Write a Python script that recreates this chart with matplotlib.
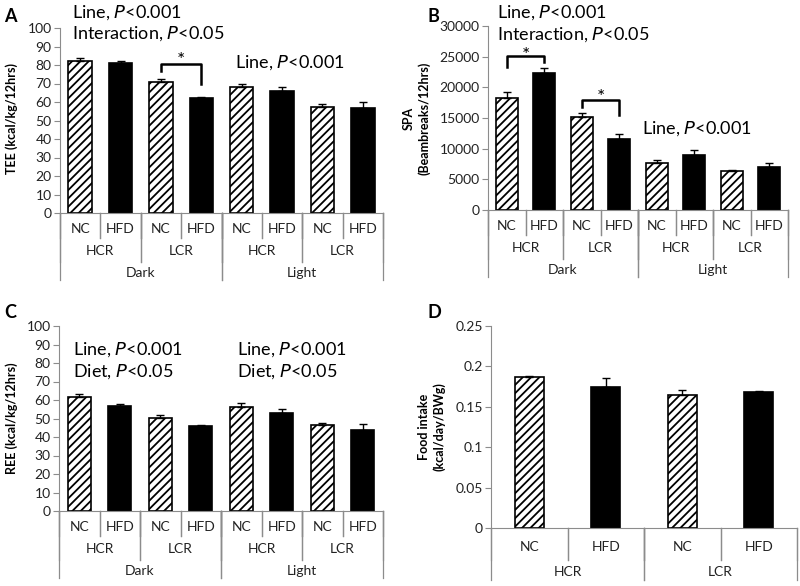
import matplotlib.pyplot as plt
import numpy as np

plt.rcParams['font.family'] = ['Lato', 'DejaVu Sans']
plt.rcParams['hatch.linewidth'] = 1.3
plt.rcParams['hatch.color'] = 'black'

# ---- data ----
diet = ['NC', 'HFD', 'NC', 'HFD', 'NC', 'HFD', 'NC', 'HFD']
line = ['HCR', 'LCR', 'HCR', 'LCR']
phase = ['Dark', 'Light']

tee = [82, 81, 71, 62, 68, 66, 57.5, 57]
tee_err = [2, 1, 1.3, 0.5, 2, 2, 1.3, 2.8]

spa = [18300, 22300, 15100, 11500, 7600, 8900, 6300, 7000]
spa_err = [1000, 800, 700, 900, 600, 900, 300, 700]

ree = [61.5, 56.5, 50.5, 46.2, 56, 53, 46.5, 44]
ree_err = [2, 1.3, 1.2, 0.4, 2.3, 2, 1.3, 2.8]

food_diet = ['NC', 'HFD', 'NC', 'HFD']
food_line = ['HCR', 'LCR']
food = [0.187, 0.175, 0.165, 0.168]
food_err = [0.001, 0.011, 0.006, 0.002]

AX_GREY = '#8c8c8c'
W, H = 800, 586

fig = plt.figure(figsize=(8, 5.86), dpi=100)


def px_axes(left, top, right, bottom):
    return fig.add_axes([left / W, 1 - bottom / H, (right - left) / W, (bottom - top) / H])


def bars(ax, vals, errs, width):
    x = np.arange(len(vals))
    for i, (v, e) in enumerate(zip(vals, errs)):
        if i % 2 == 0:
            ax.bar(x[i], v, width, color='white', edgecolor='black', hatch='////', lw=1.2, zorder=2)
        else:
            ax.bar(x[i], v, width, color='black', edgecolor='black', lw=1.2, zorder=2)
    ax.errorbar(x, vals, yerr=[np.zeros(len(vals)), errs], fmt='none', ecolor='black',
                elinewidth=1, capsize=3, capthick=1, zorder=3)
    ax.set_xlim(-0.5, len(vals) - 0.5)
    ax.set_xticks([])
    for s in ['top', 'right']:
        ax.spines[s].set_visible(False)
    for s in ['left', 'bottom']:
        ax.spines[s].set_color(AX_GREY)
    ax.tick_params(axis='y', colors=AX_GREY, labelcolor='#222222', labelsize=10, length=4, pad=2)


def cat_axis(ax, levels, text_px, line_px):
    # levels: list (leaf first) of label lists; each level splits categories evenly
    n = len(levels[0])
    h = ax.get_position().height * H
    tr = ax.get_xaxis_transform()
    for lvl, labels in enumerate(levels):
        span = n // len(labels)
        for j, lab in enumerate(labels):
            c = j * span + (span - 1) / 2
            ax.text(c, -text_px[lvl] / h, lab, transform=tr, ha='center', va='center',
                    fontsize=10, color='#222222')
            for b in (j * span - 0.5, (j + 1) * span - 0.5):
                ax.plot([b, b], [0, -line_px[lvl] / h], transform=tr, color=AX_GREY,
                        lw=0.9, clip_on=False)


def bracket(ax, x0, x1, y0, ytop, y1, ystar):
    ax.plot([x0, x0, x1, x1], [y0, ytop, ytop, y1], color='black', lw=1.8, clip_on=False, zorder=4)
    ax.text((x0 + x1) / 2, ystar, '*', ha='center', va='center', fontsize=14)


# ---- A: TEE ----
axA = px_axes(60, 28, 383, 213)
bars(axA, tee, tee_err, 0.58)
axA.set_ylim(0, 100)
axA.set_yticks(np.arange(0, 101, 10))
cat_axis(axA, [diet, line, phase], [16, 38, 60], [25, 49, 67])
bracket(axA, 2, 3, 77, 80.5, 69.5, 82.5)
axA.text(-0.2, 108.5, 'Line, $\\it{P}$<0.001', fontsize=13, va='center')
axA.text(-0.2, 97, 'Interaction, $\\it{P}$<0.05', fontsize=13, va='center')
axA.text(3.83, 81.5, 'Line, $\\it{P}$<0.001', fontsize=13, va='center')
fig.text(12 / W, 1 - 118 / H, 'TEE (kcal/kg/12hrs)', rotation=90, ha='center', va='center',
         fontsize=9, fontweight='bold')
fig.text(10 / W, 1 - 17 / H, 'A', ha='center', va='center', fontsize=13, fontweight='bold')

# ---- B: SPA ----
axB = px_axes(488, 26, 788, 210)
bars(axB, spa, spa_err, 0.58)
axB.set_ylim(0, 30000)
axB.set_yticks(np.arange(0, 30001, 5000))
cat_axis(axB, [diet, line, phase], [16, 38, 60], [25, 49, 67])
bracket(axB, 0, 1, 23300, 25100, 24100, 25200)
bracket(axB, 2, 3, 16800, 18000, 15500, 18300)
axB.text(-0.26, 32100, 'Line, $\\it{P}$<0.001', fontsize=13, va='center')
axB.text(-0.26, 28600, 'Interaction, $\\it{P}$<0.05', fontsize=13, va='center')
axB.text(3.6, 13300, 'Line, $\\it{P}$<0.001', fontsize=13, va='center')
fig.text(417 / W, 1 - 118 / H, 'SPA\n(Beambreaks/12hrs)', rotation=90, ha='center', va='center',
         fontsize=9, fontweight='bold', linespacing=1.3)
fig.text(433 / W, 1 - 17 / H, 'B', ha='center', va='center', fontsize=13, fontweight='bold')

# ---- C: REE ----
axC = px_axes(59, 326, 383, 511)
bars(axC, ree, ree_err, 0.58)
axC.set_ylim(0, 100)
axC.set_yticks(np.arange(0, 101, 10))
cat_axis(axC, [diet, line, phase], [16, 38, 60], [25, 49, 67])
axC.text(-0.15, 87, 'Line, $\\it{P}$<0.001', fontsize=13, va='center')
axC.text(-0.15, 75.5, 'Diet, $\\it{P}$<0.05', fontsize=13, va='center')
axC.text(3.9, 87, 'Line, $\\it{P}$<0.001', fontsize=13, va='center')
axC.text(3.9, 75.5, 'Diet, $\\it{P}$<0.05', fontsize=13, va='center')
fig.text(12 / W, 1 - 418 / H, 'REE (kcal/kg/12hrs)', rotation=90, ha='center', va='center',
         fontsize=9, fontweight='bold')
fig.text(10 / W, 1 - 313 / H, 'C', ha='center', va='center', fontsize=13, fontweight='bold')

# ---- D: food intake ----
axD = px_axes(491, 326, 797, 528)
bars(axD, food, food_err, 0.38)
axD.set_ylim(0, 0.25)
axD.set_yticks([0, 0.05, 0.1, 0.15, 0.2, 0.25])
axD.set_yticklabels(['0', '0.05', '0.1', '0.15', '0.2', '0.25'])
cat_axis(axD, [food_diet, food_line], [19, 44], [32, 52])
fig.text(432 / W, 1 - 427 / H, 'Food intake\n(kcal/day/BWg)', rotation=90, ha='center', va='center',
         fontsize=9, fontweight='bold', linespacing=1.3)
fig.text(434 / W, 1 - 313 / H, 'D', ha='center', va='center', fontsize=13, fontweight='bold')

fig.savefig('out.png', dpi=100)
